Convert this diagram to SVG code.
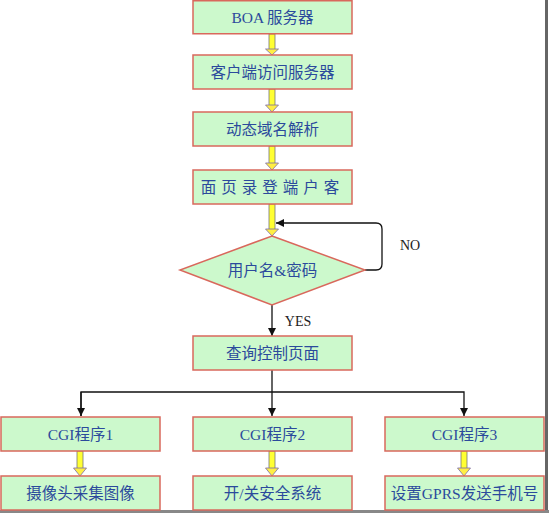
<svg xmlns="http://www.w3.org/2000/svg" width="549" height="513" viewBox="0 0 549 513">
<defs>
<style>
.box{fill:#ccf9cc;stroke:#d9685c;stroke-width:1.5}
.t{font-family:"Liberation Serif","Noto Sans CJK SC",serif;font-size:15.5px;fill:#2b4a9c;text-anchor:middle;dominant-baseline:central}
.lbl{font-family:"Liberation Serif","Noto Sans CJK SC",serif;font-size:14px;fill:#222;text-anchor:middle;dominant-baseline:central}
.ln{fill:none;stroke:#111;stroke-width:1.3}
.ys{fill:#ffff33;stroke:#777;stroke-width:0.8}
.yh{fill:#ffee44;stroke:#7a6aa8;stroke-width:0.8}
</style>
<marker id="ah" viewBox="0 0 10 10" refX="10" refY="5" markerWidth="8" markerHeight="8" markerUnits="userSpaceOnUse" orient="auto">
<path d="M0,0 L10,5 L0,10 z" fill="#111"/>
</marker>
</defs>
<rect x="0" y="0" width="549" height="513" fill="#fff"/>
<line x1="546.5" y1="0" x2="546.5" y2="511" stroke="#666" stroke-width="3"/>
<line x1="0" y1="511.5" x2="549" y2="511.5" stroke="#888" stroke-width="3"/>

<g id="connectors">
<g id="yellow-arrows">
<rect class="ys" x="269" y="34" width="6" height="16"/><polygon class="yh" points="265.5,49 278.5,49 272,55"/>
<rect class="ys" x="269" y="89" width="6" height="17"/><polygon class="yh" points="265.5,105 278.5,105 272,112"/>
<rect class="ys" x="269" y="146" width="6" height="18"/><polygon class="yh" points="265.5,163 278.5,163 272,170"/>
<rect class="ys" x="269" y="204" width="6" height="26"/><polygon class="yh" points="265.5,229 278.5,229 272,236"/>
<rect class="ys" x="77" y="451" width="6" height="18"/><polygon class="yh" points="73.5,468 86.5,468 80,476"/>
<rect class="ys" x="269" y="451" width="6" height="18"/><polygon class="yh" points="265.5,468 278.5,468 272,476"/>
<rect class="ys" x="461" y="451" width="6" height="18"/><polygon class="yh" points="457.5,468 470.5,468 464,476"/>
</g>
<path class="ln" d="M365,270 H376 Q382,270 382,264 V229 Q382,223 376,223 H276" marker-end="url(#ah)"/>
<path class="ln" d="M272,305 V336" marker-end="url(#ah)"/>
<path class="ln" d="M272,370 V416" marker-end="url(#ah)"/>
<path class="ln" d="M81,416 V392 H464 V416" marker-end="url(#ah)"/>
<path class="ln" d="M81,392 V416" marker-end="url(#ah)"/>
<text class="lbl" x="410" y="245">NO</text>
<text class="lbl" x="298" y="321">YES</text>
</g>

<g id="n1"><rect class="box" x="193" y="0.75" width="159" height="33"/><text class="t" x="272.5" y="17">BOA 服务器</text></g>
<g id="n2"><rect class="box" x="193" y="55" width="159" height="34"/><text class="t" x="272.5" y="72">客户端访问服务器</text></g>
<g id="n3"><rect class="box" x="193" y="112" width="159" height="34"/><text class="t" x="272.5" y="129">动态域名解析</text></g>
<g id="n4"><rect class="box" x="193" y="170" width="159" height="34"/><text class="t" x="272.5" y="187" letter-spacing="5">面页录登端户客</text></g>
<g id="n5"><polygon class="box" points="272,236 365,270 272,305 180,270"/><text class="t" x="272.5" y="270">用户名&amp;密码</text></g>
<g id="n6"><rect class="box" x="193" y="336" width="159" height="34"/><text class="t" x="272.5" y="353">查询控制页面</text></g>
<g id="n7"><rect class="box" x="1" y="417" width="159" height="34"/><text class="t" x="80.5" y="434">CGI程序1</text></g>
<g id="n8"><rect class="box" x="193" y="417" width="159" height="34"/><text class="t" x="272.5" y="434">CGI程序2</text></g>
<g id="n9"><rect class="box" x="385" y="417" width="159" height="34"/><text class="t" x="464.5" y="434">CGI程序3</text></g>
<g id="n10"><rect class="box" x="1" y="476" width="159" height="34"/><text class="t" x="80.5" y="493">摄像头采集图像</text></g>
<g id="n11"><rect class="box" x="193" y="476" width="159" height="34"/><text class="t" x="272.5" y="493">开/关安全系统</text></g>
<g id="n12"><rect class="box" x="385" y="476" width="159" height="34"/><text class="t" x="464.5" y="493">设置GPRS发送手机号</text></g>
</svg>
